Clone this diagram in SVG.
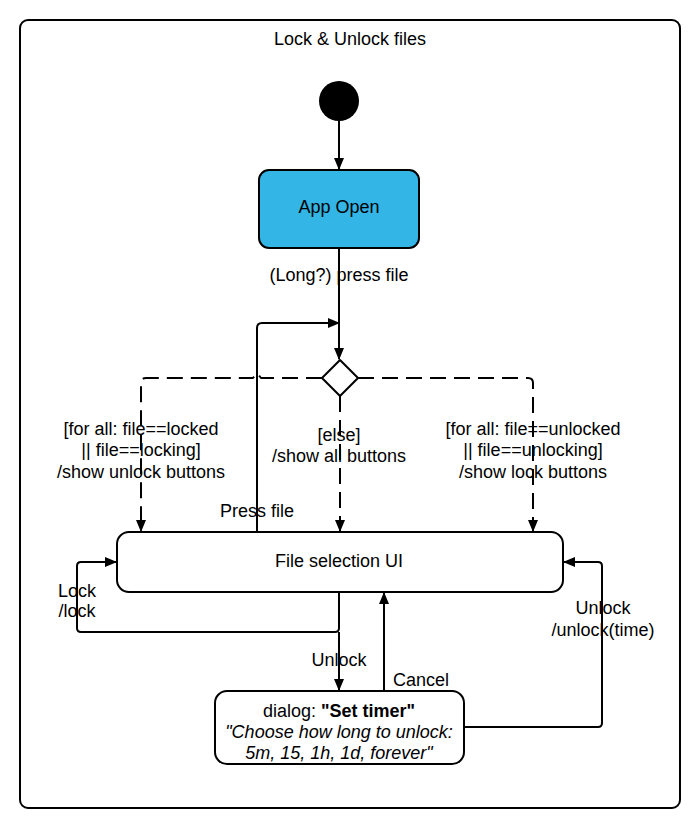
<svg xmlns="http://www.w3.org/2000/svg" width="700" height="829" viewBox="0 0 700 829">
<style>
text{font-family:"Liberation Sans",Arial,sans-serif;font-size:18px;fill:#000;text-anchor:middle}
.ln{fill:none;stroke:#000;stroke-width:2;stroke-linejoin:round}
.dash{stroke-dasharray:16,8}
.node{stroke:#000;stroke-width:2}
</style>
<defs>
<marker id="ah" markerWidth="12" markerHeight="10" refX="11" refY="5" orient="auto" markerUnits="userSpaceOnUse">
<path d="M0,0 L12,5 L0,10 Z" fill="#000"/>
</marker>
</defs>
<rect x="20" y="20" width="660" height="788" rx="8" fill="#fff" stroke="#000" stroke-width="2"/>
<text x="350" y="45">Lock &amp; Unlock files</text>
<g id="start"><circle cx="339" cy="101" r="20" fill="#000"/></g>
<g id="app-open"><rect class="node" x="259" y="170" width="160" height="78" rx="10" fill="#33b5e6"/><text x="339" y="213">App Open</text></g>
<g id="decision"><path class="node" d="M340,360 L358,378 L340,396 L322,378 Z" fill="#fff" stroke-linejoin="round"/></g>
<g id="file-selection"><rect class="node" x="117" y="532" width="446" height="60" rx="12" fill="#fff"/><text x="339" y="567">File selection UI</text></g>
<g id="dialog"><rect class="node" x="215" y="691" width="249" height="73" rx="12" fill="#fff"/>
<text x="339" y="717">dialog: <tspan font-weight="bold">"Set timer"</tspan></text>
<text x="339" y="738" font-style="italic">"Choose how long to unlock:</text>
<text x="339" y="759" font-style="italic">5m, 15, 1h, 1d, forever"</text></g>
<g id="connectors">
<path class="ln" d="M339,121 L339,169" marker-end="url(#ah)"/>
<path class="ln" d="M339,248 L339,359" marker-end="url(#ah)"/>
<path class="ln" d="M257,532 L257,328 Q257,323 262,323 L339,323" marker-end="url(#ah)"/>
<path class="ln dash" d="M322,378 L261,378 L257,373 L253,378 L146,378 Q141,378 141,383 L141,531" marker-end="url(#ah)"/>
<path class="ln dash" d="M340,396 L340,531" marker-end="url(#ah)"/>
<path class="ln dash" d="M358,378 L528,378 Q533,378 533,383 L533,531" marker-end="url(#ah)"/>
<path class="ln" d="M339,592 L339,628 Q339,632 335,632 L81,632 Q77,632 77,628 L77,566 Q77,562 81,562 L116,562" marker-end="url(#ah)"/>
<path class="ln" d="M339,632 L339,690" marker-end="url(#ah)"/>
<path class="ln" d="M384,691 L384,593" marker-end="url(#ah)"/>
<path class="ln" d="M464,727 L598,727 Q602,727 602,723 L602,566 Q602,562 598,562 L564,562" marker-end="url(#ah)"/>
<text x="339" y="281">(Long?) press file</text>
<text x="141" y="435">[for all: file==locked</text>
<text x="141" y="456">|| file==locking]</text>
<text x="141" y="478">/show unlock buttons</text>
<text x="339" y="441">[else]</text>
<text x="339" y="462">/show all buttons</text>
<text x="533" y="435">[for all: file==unlocked</text>
<text x="533" y="456">|| file==unlocking]</text>
<text x="533" y="478">/show lock buttons</text>
<text x="257" y="517">Press file</text>
<text x="77" y="597">Lock</text>
<text x="77" y="617">/lock</text>
<text x="339" y="666">Unlock</text>
<text x="421" y="686">Cancel</text>
<text x="603" y="614">Unlock</text>
<text x="603" y="636">/unlock(time)</text>
</g>
</svg>
